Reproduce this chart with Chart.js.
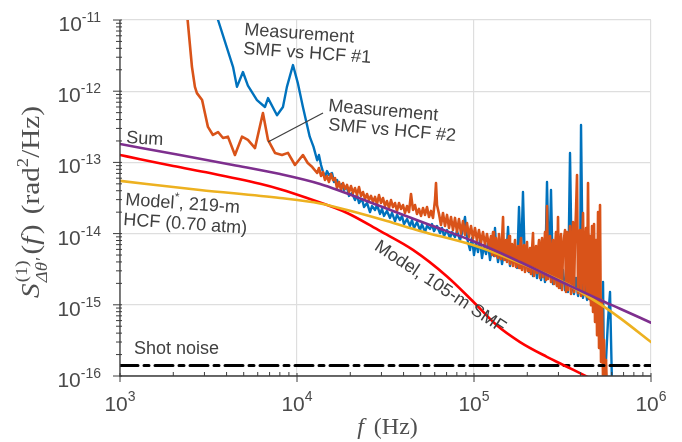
<!DOCTYPE html>
<html>
<head>
<meta charset="utf-8">
<script src="https://cdn.jsdelivr.net/npm/chart.js@4.4.1/dist/chart.umd.min.js"></script>
<style>
  html, body { margin: 0; background: #fff; }
  #caixa { width: 682px; height: 442px; }
</style>
</head>
<body>
<div id="caixa"><canvas id="grafico" width="682" height="442"></canvas></div>
<script>
// ticks
const xTicks = [1e3, 1e4, 1e5, 1e6];
const xTickExp = ['3', '4', '5', '6'];
const yTicks = [1e-16, 1e-15, 1e-14, 1e-13, 1e-12, 1e-11];
const yTickExp = ['-16', '-15', '-14', '-13', '-12', '-11'];

// modelo SMF 105 m (vermelho)
const freqSMF = [1e3, 1.3e3, 2e3, 3.22e3, 6.17e3, 8.03e3, 1.14e4, 1.92e4, 2.94e4, 4.52e4, 7.04e4, 9.85e4, 1.34e5, 1.82e5, 2.58e5, 3.35e5, 4.35e5, 5.0e5];
const psdSMF  = [1.27e-13, 1.11e-13, 8.9e-14, 7.1e-14, 5.0e-14, 4.2e-14, 3.16e-14, 1.95e-14, 1.09e-14, 5.9e-15, 2.5e-15, 1.12e-15, 5.2e-16, 3.0e-16, 1.86e-16, 1.35e-16, 9.8e-17, 8.3e-17];

// modelo HCF 219 m (amarelo)
const freqHCF = [1e3, 2.83e3, 8.03e3, 1.35e4, 1.92e4, 3.22e4, 4.95e4, 9.85e4, 1.82e5, 3.35e5, 5.16e5, 6.69e5, 1e6];
const psdHCF  = [5.5e-14, 4.1e-14, 3.16e-14, 2.65e-14, 2.14e-14, 1.5e-14, 1.09e-14, 6.9e-15, 3.87e-15, 1.96e-15, 1.02e-15, 6.5e-16, 3.0e-16];

// soma (roxo)
const freqSum = [1e3, 2.18e3, 4.35e3, 8.03e3, 1.35e4, 2.94e4, 5.64e4, 9.85e4, 1.82e5, 3.49e5, 5.16e5, 6.69e5, 1e6];
const psdSum  = [1.81e-13, 1.27e-13, 9.2e-14, 6.85e-14, 4.97e-14, 2.44e-14, 1.32e-14, 7.86e-15, 3.99e-15, 1.84e-15, 1.17e-15, 8.8e-16, 5.6e-16];

// ruido shot
const freqShot = [1e3, 1e6];
const psdShot  = [1.41e-16, 1.41e-16];

// medicao SMF vs HCF #1 (azul)
const freqMed1 = [
  3.3e3, 3.58e3, 4.35e3, 4.58e3, 4.95e3, 5.28e3, 5.94e3, 6.59e3, 6.86e3, 7.71e3,
  8.33e3, 8.77e3, 9.49e3, 1.01e4, 1.08e4, 1.18e4, 1.24e4, 1.30e4, 1.33e4, 1.367e4,
  1.403e4, 1.439e4, 1.477e4, 1.516e4, 1.577e4, 1.619e4, 1.683e4, 1.727e4, 1.796e4, 1.843e4,
  1.916e4, 1.967e4, 2.045e4, 2.127e4, 2.183e4, 2.240e4, 2.330e4, 2.391e4, 2.486e4, 2.585e4,
  2.653e4, 2.759e4, 2.831e4, 2.944e4, 3.021e4, 3.101e4, 3.224e4, 3.353e4, 3.441e4, 3.579e4,
  3.673e4, 3.819e4, 3.919e4, 4.023e4, 4.183e4, 4.349e4, 4.464e4, 4.581e4, 4.764e4, 4.954e4,
  5.084e4, 5.287e4, 5.426e4, 5.642e4, 5.791e4, 5.943e4, 6.180e4, 6.426e4, 6.595e4, 6.769e4,
  7.039e4, 7.318e4, 7.511e4, 7.810e4, 8.016e4, 8.335e4, 8.555e4, 8.895e4, 9.130e4, 9.493e4,
  9.743e4, 1.000e5, 1.026e5, 1.053e5, 1.081e5, 1.110e5, 1.139e5, 1.169e5, 1.200e5, 1.232e5,
  1.264e5, 1.297e5, 1.314e5, 1.332e5, 1.367e5, 1.403e5, 1.440e5, 1.478e5, 1.517e5, 1.557e5,
  1.597e5, 1.640e5, 1.683e5, 1.727e5, 1.750e5, 1.796e5, 1.843e5, 1.891e5, 1.942e5, 1.993e5,
  2.045e5, 2.099e5, 2.155e5, 2.212e5, 2.270e5, 2.330e5, 2.391e5, 2.454e5, 2.519e5, 2.585e5,
  2.653e5, 2.723e5, 2.795e5, 2.869e5, 2.944e5, 3.022e5, 3.102e5, 3.183e5, 3.268e5, 3.354e5,
  3.398e5, 3.487e5, 3.579e5, 3.674e5, 3.771e5, 3.870e5, 3.972e5, 4.024e5, 4.130e5, 4.239e5,
  4.351e5, 4.465e5, 4.583e5, 4.704e5, 4.828e5, 4.956e5, 5.086e5, 5.220e5, 5.358e5, 5.428e5,
  5.570e5, 5.717e5, 5.868e5, 5.945e5, 6.022e5
];
const psdMed1 = [
  3e-11, 1.0e-11, 2.2e-12, 1.15e-12, 1.86e-12, 1.2e-12, 7.5e-13, 6.0e-13, 8.0e-13, 4.6e-13,
  6.0e-13, 1.15e-12, 2.33e-12, 1.31e-12, 6.0e-13, 2.3e-13, 1.65e-13, 1.07e-13, 1.27e-13, 9.2e-14,
  7.3e-14, 6.23e-14, 7.55e-14, 6.65e-14, 7.07e-14, 5.30e-14, 5.66e-14, 4.66e-14, 4.97e-14, 4.10e-14,
  4.51e-14, 3.38e-14, 3.72e-14, 2.96e-14, 3.49e-14, 2.69e-14, 3.06e-14, 2.36e-14, 2.69e-14, 2.01e-14,
  2.44e-14, 2.15e-14, 2.52e-14, 1.89e-14, 2.22e-14, 1.77e-14, 2.08e-14, 1.66e-14, 1.95e-14, 1.50e-14,
  1.83e-14, 1.55e-14, 1.77e-14, 1.36e-14, 1.60e-14, 1.28e-14, 1.55e-14, 1.20e-14, 1.45e-14, 1.12e-14,
  1.36e-14, 1.05e-14, 1.28e-14, 1.16e-14, 1.36e-14, 1.085e-14, 1.28e-14, 1.017e-14, 1.20e-14, 9.25e-15,
  1.12e-14, 8.66e-15, 1.05e-14, 8.95e-15, 1.085e-14, 8.1e-15, 1.017e-14, 1.71e-14, 8.66e-15, 5.88e-15,
  8.66e-15, 5.0e-15, 7.61e-15, 5.51e-15, 8.1e-15, 4.54e-15, 6.9e-15, 5.16e-15, 7.37e-15, 4.26e-15,
  6.27e-15, 4.84e-15, 1.20e-14, 6.69e-15, 3.99e-15, 5.88e-15, 3.74e-15, 5.51e-15, 4.26e-15, 1.24e-14,
  3.51e-15, 5.16e-15, 3.99e-15, 5.88e-15, 3.29e-15, 2.36e-14, 3.99e-15, 3.84e-14, 3.08e-15, 4.54e-15,
  2.89e-15, 4.26e-15, 2.54e-15, 3.99e-15, 2.38e-15, 3.74e-15, 2.23e-15, 3.99e-15, 2.09e-15, 5.30e-14,
  2.54e-15, 4.10e-14, 1.96e-15, 3.08e-15, 1.84e-15, 2.89e-15, 1.72e-15, 3.08e-15, 1.61e-15, 2.54e-15,
  1.51e-15, 1.355e-13, 1.90e-15, 1.42e-15, 2.38e-15, 1.33e-15, 1.96e-15, 3.35e-13, 1.25e-15, 2.09e-15,
  1.17e-15, 1.90e-15, 1.10e-15, 1.84e-15, 1.17e-15, 1.51e-15, 6.1e-16, 2.32e-16, 2.09e-15, 8.8e-17,
  1.68e-16, 6.1e-16, 1.51e-15, 3.2e-16, 7.5e-17
];

// medicao SMF vs HCF #2 (laranja)
const freqMed2 = [
  2.2e3, 2.41e3, 2.55e3, 2.65e3, 2.72e3, 2.91e3, 3.02e3, 3.14e3, 3.35e3, 3.58e3,
  3.82e3, 4.07e3, 4.46e3, 4.89e3, 5.28e3, 5.79e3, 6.42e3, 6.86e3, 7.51e3, 8.23e3,
  8.89e3, 9.74e3, 1.08e4, 1.15e4, 1.22e4, 1.30e4, 1.331e4, 1.367e4, 1.403e4, 1.439e4,
  1.477e4, 1.516e4, 1.557e4, 1.598e4, 1.639e4, 1.683e4, 1.727e4, 1.773e4, 1.819e4, 1.867e4,
  1.916e4, 1.967e4, 2.019e4, 2.072e4, 2.127e4, 2.183e4, 2.240e4, 2.300e4, 2.360e4, 2.423e4,
  2.486e4, 2.552e4, 2.619e4, 2.688e4, 2.759e4, 2.831e4, 2.906e4, 2.982e4, 3.061e4, 3.142e4,
  3.224e4, 3.309e4, 3.397e4, 3.486e4, 3.579e4, 3.673e4, 3.769e4, 3.869e4, 3.971e4, 4.076e4,
  4.183e4, 4.293e4, 4.406e4, 4.522e4, 4.642e4, 4.764e4, 4.890e4, 5.019e4, 5.151e4, 5.287e4,
  5.426e4, 5.569e4, 5.716e4, 5.866e4, 6.021e4, 6.100e4, 6.180e4, 6.343e4, 6.510e4, 6.681e4,
  6.858e4, 7.039e4, 7.224e4, 7.414e4, 7.610e4, 7.810e4, 8.016e4, 8.227e4, 8.444e4, 8.667e4,
  8.895e4, 9.130e4, 9.370e4, 9.617e4, 9.871e4, 1.013e5, 1.040e5, 1.067e5, 1.095e5, 1.124e5,
  1.154e5, 1.184e5, 1.215e5, 1.248e5,
  1.264e5, 1.281e5, 1.297e5, 1.314e5, 1.332e5, 1.349e5, 1.367e5, 1.385e5, 1.403e5, 1.421e5,
  1.440e5, 1.459e5, 1.478e5, 1.497e5, 1.517e5, 1.536e5, 1.557e5, 1.577e5, 1.597e5, 1.618e5,
  1.640e5, 1.661e5, 1.683e5, 1.705e5, 1.727e5, 1.750e5, 1.773e5, 1.796e5, 1.819e5, 1.843e5,
  1.867e5, 1.891e5, 1.916e5, 1.942e5, 1.967e5, 1.993e5, 2.019e5, 2.045e5, 2.072e5, 2.099e5,
  2.127e5, 2.155e5, 2.183e5, 2.212e5, 2.241e5, 2.270e5, 2.300e5, 2.330e5, 2.360e5, 2.391e5,
  2.423e5, 2.454e5, 2.486e5, 2.519e5, 2.552e5, 2.585e5, 2.619e5, 2.653e5, 2.688e5, 2.723e5,
  2.759e5, 2.795e5, 2.832e5, 2.869e5, 2.906e5, 2.944e5, 2.983e5, 3.022e5, 3.062e5, 3.102e5,
  3.142e5, 3.183e5, 3.225e5, 3.268e5, 3.310e5, 3.354e5, 3.398e5, 3.442e5, 3.487e5, 3.533e5,
  3.579e5, 3.626e5, 3.674e5, 3.722e5, 3.771e5, 3.820e5, 3.870e5, 3.921e5, 3.972e5, 4.024e5,
  4.077e5, 4.130e5, 4.184e5, 4.239e5, 4.294e5, 4.351e5, 4.408e5, 4.465e5, 4.524e5, 4.583e5,
  4.643e5, 4.704e5, 4.766e5, 4.828e5, 4.891e5, 4.956e5, 5.021e5, 5.086e5, 5.152e5, 5.220e5,
  5.288e5, 5.358e5, 5.428e5, 5.498e5, 5.570e5, 5.643e5
];
const psdMed2 = [
  3e-11, 1.0e-11, 2.2e-12, 1.15e-12, 9.4e-13, 7.5e-13, 4.9e-13, 3.15e-13, 2.43e-13, 2.67e-13,
  2.2e-13, 2.3e-13, 1.27e-13, 2.3e-13, 2.07e-13, 1.59e-13, 4.94e-13, 2.07e-13, 1.36e-13, 1.27e-13,
  1.36e-13, 9.2e-14, 1.27e-13, 9.8e-14, 8.6e-14, 7.1e-14, 8.35e-14, 6.44e-14, 7.31e-14, 5.66e-14,
  6.44e-14, 5.30e-14, 6.85e-14, 5.66e-14, 6.03e-14, 4.37e-14, 5.30e-14, 4.10e-14, 5.13e-14, 4.23e-14,
  4.82e-14, 3.84e-14, 4.66e-14, 3.72e-14, 4.37e-14, 3.49e-14, 4.51e-14, 3.38e-14, 3.84e-14, 3.06e-14,
  3.60e-14, 2.96e-14, 3.38e-14, 2.78e-14, 3.27e-14, 2.60e-14, 3.49e-14, 2.69e-14, 3.16e-14, 2.44e-14,
  2.87e-14, 2.29e-14, 2.96e-14, 2.36e-14, 2.69e-14, 2.08e-14, 2.69e-14, 2.22e-14, 2.52e-14, 1.95e-14,
  2.44e-14, 2.01e-14, 3.60e-14, 2.15e-14, 2.52e-14, 1.89e-14, 2.22e-14, 1.77e-14, 2.29e-14, 1.83e-14,
  2.36e-14, 1.71e-14, 2.08e-14, 1.66e-14, 2.96e-14, 5.13e-14, 2.52e-14, 1.89e-14, 1.32e-14, 1.95e-14,
  1.28e-14, 1.83e-14, 1.20e-14, 1.71e-14, 1.12e-14, 1.66e-14, 1.05e-14, 1.60e-14, 1.00e-14, 1.50e-14,
  9.6e-15, 1.41e-14, 9.0e-15, 1.28e-14, 8.5e-15, 1.20e-14, 7.9e-15, 1.12e-14, 7.4e-15, 1.05e-14,
  7.0e-15, 9.85e-15, 6.6e-15, 9.25e-15,
  5.0e-15, 1.05e-14, 6.27e-15, 4.84e-15, 8.66e-15, 5.88e-15, 4.54e-15, 9.85e-15, 6.69e-15, 4.39e-15,
  8.1e-15, 1.71e-14, 4.26e-15, 7.13e-15, 8.1e-15, 3.99e-15, 5.88e-15, 9.25e-15, 3.74e-15, 6.27e-15,
  7.13e-15, 3.51e-15, 5.51e-15, 8.1e-15, 3.39e-15, 5.0e-15, 6.69e-15, 3.29e-15, 5.88e-15, 8.66e-15,
  3.08e-15, 4.84e-15, 6.9e-15, 2.89e-15, 5.51e-15, 7.61e-15, 2.98e-15, 4.54e-15, 6.27e-15, 2.71e-15,
  5.88e-15, 1.017e-14, 2.54e-15, 4.84e-15, 6.69e-15, 2.80e-15, 5.51e-15, 8.1e-15, 2.38e-15, 5.88e-15,
  8.66e-15, 2.46e-15, 5.0e-15, 1.05e-14, 2.23e-15, 2.44e-14, 2.30e-15, 5.88e-15, 9.25e-15, 2.09e-15,
  5.16e-15, 8.1e-15, 1.96e-15, 6.27e-15, 1.05e-14, 1.84e-15, 1.71e-14, 1.72e-15, 5.51e-15, 9.85e-15,
  1.61e-15, 5.88e-15, 8.66e-15, 1.12e-14, 1.51e-15, 1.05e-14, 1.61e-15, 6.9e-15, 1.28e-14, 1.42e-15,
  5.88e-15, 1.45e-14, 1.51e-15, 8.1e-15, 2.15e-14, 6.65e-14, 1.46e-15, 5.88e-15, 1.12e-14, 1.33e-15,
  6.9e-15, 1.95e-14, 1.37e-15, 5.88e-15, 1.20e-14, 1.29e-15, 5.13e-14, 1.21e-15, 9.25e-15, 9.9e-16,
  1.28e-14, 7.95e-16, 1.36e-14, 5.73e-16, 8.1e-15, 3.74e-16, 2.01e-14, 2.47e-16, 2.52e-14, 1.57e-16,
  1.17e-15, 8.8e-17, 3.2e-16, 7.5e-17, 1.68e-16, 6.0e-17
];

const pontos = (fs, vs) => fs.map((f, i) => ({ x: f, y: vs[i] }));

const sans = '"Liberation Sans", Arial, sans-serif';
const serif = '"Liberation Serif", "Times New Roman", serif';
const corTexto = '#404040';

function escreve(ctx, partes, x, y, ang) {
  ctx.save();
  ctx.translate(x, y);
  ctx.rotate(ang * Math.PI / 180);
  let cx = 0;
  for (const p of partes) {
    ctx.font = p.f;
    ctx.fillText(p.t, cx, p.dy || 0);
    cx += ctx.measureText(p.t).width;
  }
  ctx.restore();
}

const moldura = {
  id: 'moldura',
  afterDraw(chart) {
    const { ctx, chartArea: a, scales: { x, y } } = chart;
    ctx.save();

    // eixos
    ctx.strokeStyle = '#3c3c3c';
    ctx.lineWidth = 1.3;
    ctx.beginPath();
    ctx.moveTo(a.left, a.top);
    ctx.lineTo(a.left, a.bottom);
    ctx.lineTo(a.right, a.bottom);
    ctx.stroke();

    // marcas
    ctx.lineWidth = 1;
    ctx.beginPath();
    xTicks.forEach((d, i) => {
      const px = x.getPixelForValue(d);
      ctx.moveTo(px, a.bottom - 3); ctx.lineTo(px, a.bottom + 6);
      if (i < xTicks.length - 1) {
        for (let k = 2; k < 10; k++) {
          const pm = x.getPixelForValue(k * d);
          ctx.moveTo(pm, a.bottom); ctx.lineTo(pm, a.bottom - 4);
        }
      }
    });
    yTicks.forEach((d, i) => {
      const py = y.getPixelForValue(d);
      ctx.moveTo(a.left - 7, py); ctx.lineTo(a.left + 2, py);
      if (i < yTicks.length - 1) {
        for (let k = 2; k < 10; k++) {
          const pm = y.getPixelForValue(k * d);
          ctx.moveTo(a.left - 4, pm); ctx.lineTo(a.left + 2, pm);
        }
      }
    });
    ctx.stroke();

    // rotulos dos ticks
    ctx.fillStyle = '#4a4a4a';
    ctx.textBaseline = 'alphabetic';
    ctx.textAlign = 'left';
    xTicks.forEach((d, i) => {
      const px = x.getPixelForValue(d);
      ctx.font = '21px ' + sans;
      const w1 = ctx.measureText('10').width;
      ctx.font = '14px ' + sans;
      const w2 = ctx.measureText(xTickExp[i]).width;
      const x0 = px - (w1 + w2) / 2;
      ctx.font = '21px ' + sans;
      ctx.fillText('10', x0, a.bottom + 35);
      ctx.font = '14px ' + sans;
      ctx.fillText(xTickExp[i], x0 + w1, a.bottom + 25);
    });
    yTicks.forEach((d, i) => {
      const py = y.getPixelForValue(d);
      ctx.font = '14px ' + sans;
      const w2 = ctx.measureText(yTickExp[i]).width;
      ctx.font = '21px ' + sans;
      const w1 = ctx.measureText('10').width;
      const x0 = a.left - 19 - w1 - w2;
      ctx.fillText('10', x0, py + 11);
      ctx.font = '14px ' + sans;
      ctx.fillText(yTickExp[i], x0 + w1, py + 2);
    });

    // titulo x
    ctx.fillStyle = '#505050';
    ctx.font = 'italic 24px ' + serif;
    const wf = ctx.measureText('f').width;
    ctx.font = '24px ' + serif;
    const wh = ctx.measureText(' (Hz)').width;
    const xt = (a.left + a.right) / 2 - (wf + wh) / 2;
    ctx.font = 'italic 24px ' + serif;
    ctx.fillText('f', xt, 434);
    ctx.font = '24px ' + serif;
    ctx.fillText(' (Hz)', xt + wf + 4, 434);

    // titulo y
    ctx.save();
    ctx.translate(39, 202);
    ctx.rotate(-Math.PI / 2);
    const partesY = [
      { t: 'S', f: 'italic 25px ' + serif, dy: 0 },
      { stack: true, sup: '(1)', sub: 'Δθ′' },
      { t: '(', f: '25px ' + serif, dy: 0 },
      { t: 'f', f: 'italic 25px ' + serif, dy: 0, gap: 2 },
      { t: ')', f: '25px ' + serif, dy: 0, gap: 9 },
      { t: '(rad', f: '25px ' + serif, dy: 0 },
      { t: '2', f: '16px ' + serif, dy: -11 },
      { t: '/Hz)', f: '25px ' + serif, dy: 0 }
    ];
    const larg = p => {
      if (p.stack) {
        ctx.font = '16px ' + serif; const a1 = ctx.measureText(p.sup).width;
        ctx.font = 'italic 16px ' + serif; const a2 = ctx.measureText(p.sub).width;
        return Math.max(a1, a2) + 4;
      }
      ctx.font = p.f; return ctx.measureText(p.t).width + (p.gap || 0);
    };
    const total = partesY.reduce((s, p) => s + larg(p), 0);
    const esc = 192 / total;
    ctx.scale(esc, 1);
    let cx = -total / 2;
    partesY.forEach(p => {
      const w = larg(p);
      if (p.stack) {
        ctx.font = '16px ' + serif; ctx.fillText(p.sup, cx + 1, -12);
        ctx.font = 'italic 16px ' + serif; ctx.fillText(p.sub, cx + 1, 8);
      } else {
        ctx.font = p.f; ctx.fillText(p.t, cx, p.dy);
      }
      cx += w;
    });
    ctx.restore();

    // anotacoes
    ctx.fillStyle = corTexto;
    const f18 = '18px ' + sans;
    escreve(ctx, [{ t: 'Measurement', f: f18 }], 244, 35, 4);
    escreve(ctx, [{ t: 'SMF vs HCF #1', f: f18 }], 243, 54, 4);
    escreve(ctx, [{ t: 'Measurement', f: f18 }], 328, 111, 5);
    escreve(ctx, [{ t: 'SMF vs HCF #2', f: f18 }], 328, 130, 5);
    escreve(ctx, [{ t: 'Sum', f: f18 }], 126, 143, 3);
    escreve(ctx, [{ t: 'Model', f: f18 }, { t: '*', f: '12px ' + sans, dy: -8 }, { t: ', 219-m', f: f18 }], 125, 205, 4);
    escreve(ctx, [{ t: 'HCF (0.70 atm)', f: f18 }], 123, 225, 4);
    escreve(ctx, [{ t: 'Shot noise', f: f18 }], 134, 354, 0);

    ctx.save();
    ctx.translate(440, 287);
    ctx.rotate(33.5 * Math.PI / 180);
    ctx.font = f18;
    ctx.textAlign = 'center';
    ctx.textBaseline = 'middle';
    ctx.fillText('Model, 105-m SMF', 0, 0);
    ctx.restore();

    // linha guia
    ctx.strokeStyle = corTexto;
    ctx.lineWidth = 1.3;
    ctx.beginPath();
    ctx.moveTo(268, 142);
    ctx.lineTo(323, 113);
    ctx.stroke();

    ctx.restore();
  }
};

const ehDecada = v => Math.abs(Math.log10(v) - Math.round(Math.log10(v))) < 1e-6;

const grafico = new Chart(document.getElementById('grafico'), {
  type: 'line',
  data: {
    datasets: [
      { label: 'Sum', data: pontos(freqSum, psdSum), borderColor: '#7E2F8E', borderWidth: 2.6, cubicInterpolationMode: 'monotone' },
      { label: 'Model*, 219-m HCF', data: pontos(freqHCF, psdHCF), borderColor: '#EDB120', borderWidth: 2.6, cubicInterpolationMode: 'monotone' },
      { label: 'Model, 105-m SMF', data: pontos(freqSMF, psdSMF), borderColor: '#FF0000', borderWidth: 2.6, cubicInterpolationMode: 'monotone' },
      { label: 'Shot noise', data: pontos(freqShot, psdShot), borderColor: '#000000', borderWidth: 3, borderDash: [18, 6, 5, 6] },
      { label: 'SMF vs HCF #2', data: pontos(freqMed2, psdMed2), borderColor: '#D95319', borderWidth: 2.6 },
      { label: 'SMF vs HCF #1', data: pontos(freqMed1, psdMed1), borderColor: '#0072BD', borderWidth: 2.4 }
    ]
  },
  options: {
    responsive: false,
    devicePixelRatio: 1,
    animation: false,
    events: [],
    layout: { padding: { left: 120, right: 31, top: 20, bottom: 66 } },
    elements: {
      point: { radius: 0 },
      line: { tension: 0, borderJoinStyle: 'round', borderCapStyle: 'round', fill: false }
    },
    datasets: { line: { clip: 0 } },
    plugins: { legend: { display: false }, tooltip: { enabled: false } },
    scales: {
      x: {
        type: 'logarithmic', min: 1e3, max: 1e6,
        afterBuildTicks: s => { s.ticks = xTicks.map(v => ({ value: v })); },
        ticks: { display: false },
        border: { display: false },
        grid: { drawTicks: false, color: c => ehDecada(c.tick.value) ? '#dedede' : 'rgba(0,0,0,0)', lineWidth: 1.2 }
      },
      y: {
        type: 'logarithmic', min: 1e-16, max: 1e-11,
        afterBuildTicks: s => { s.ticks = yTicks.map(v => ({ value: v })); },
        ticks: { display: false },
        border: { display: false },
        grid: { drawTicks: false, color: c => ehDecada(c.tick.value) ? '#dedede' : 'rgba(0,0,0,0)', lineWidth: 1.2 }
      }
    }
  },
  plugins: [moldura]
});
</script>
</body>
</html>
